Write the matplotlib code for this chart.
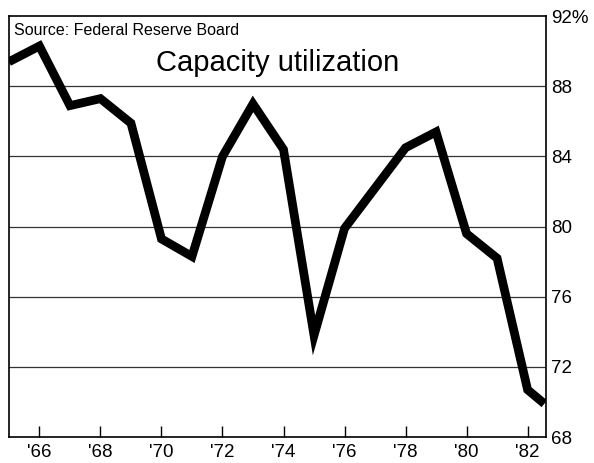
import matplotlib
matplotlib.use("Agg")
import matplotlib.pyplot as plt

plt.rcParams['font.family'] = ['Liberation Sans', 'DejaVu Sans']

years = [1965.0, 1966, 1967, 1968, 1969, 1970, 1971, 1972, 1973, 1974, 1975,
         1976, 1977, 1978, 1979, 1980, 1981, 1982, 1982.55]
values = [89.4, 90.3, 86.9, 87.3, 85.9, 79.3, 78.3, 84.0, 87.0, 84.4, 73.8,
          79.9, 82.2, 84.5, 85.4, 79.6, 78.2, 70.7, 69.9]
xtick_pos = [1966, 1968, 1970, 1972, 1974, 1976, 1978, 1980, 1982]
xtick_labels = ["'66", "'68", "'70", "'72", "'74", "'76", "'78", "'80", "'82"]
ytick_pos = [68, 72, 76, 80, 84, 88, 92]
ytick_labels = ["68", "72", "76", "80", "84", "88", "92%"]

fig = plt.figure(figsize=(5.94, 4.63), dpi=100)
ax = fig.add_axes([0.015, 0.056, 0.904, 0.909])

for y in ytick_pos[1:-1]:
    ax.axhline(y, color='#333333', lw=0.9, zorder=1)

ax.plot(years, values, color='black', lw=6.3, solid_joinstyle='miter',
        solid_capstyle='butt', zorder=3)

ax.set_xlim(1965.0, 1982.6)
ax.set_ylim(68, 92)

ax.set_xticks(xtick_pos)
ax.set_xticklabels(xtick_labels, fontsize=13.5)
ax.tick_params(axis='x', direction='in', length=8, width=1, pad=5)

ax.yaxis.tick_right()
ax.set_yticks(ytick_pos)
ax.set_yticklabels(ytick_labels, fontsize=13.5)
ax.tick_params(axis='y', direction='out', length=0, pad=4)

for s in ax.spines.values():
    s.set_color('black')
    s.set_linewidth(1.2)

ax.text(0.01, 0.985, "Source: Federal Reserve Board", transform=ax.transAxes,
        ha='left', va='top', fontsize=11.5)
ax.text(0.5, 0.89, "Capacity utilization", transform=ax.transAxes,
        ha='center', va='center', fontsize=21)

fig.savefig("out.png", dpi=100)
